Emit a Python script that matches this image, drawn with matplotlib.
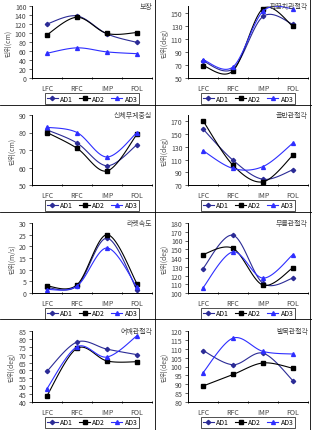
import numpy as np
import matplotlib
matplotlib.use("Agg")
import matplotlib.pyplot as plt
from matplotlib.lines import Line2D

plt.rcParams['font.family'] = ['Noto Sans CJK KR', 'DejaVu Sans']
plt.rcParams['font.size'] = 5

phases = ['LFC', 'RFC', 'IMP', 'FOL']
series = ['AD1', 'AD2', 'AD3']

# values: rows are AD1, AD2, AD3
stride = [[120, 138, 98, 79], [96, 135, 99, 101], [55, 67, 58, 54]]
elbow = [[76, 64, 144, 132], [69, 61, 156, 129], [78, 67, 152, 156]]
cog = [[81.5, 74, 61, 73], [80, 71, 58, 79], [83, 80, 66, 80]]
pelvis = [[158, 109, 79, 94], [171, 101, 75, 117], [124, 96, 99, 136]]
racket = [[2.3, 3, 23.5, 1.2], [3, 3.5, 25, 4], [1.5, 3, 19.3, 2.5]]
knee = [[128, 166, 111, 117], [144, 151, 109, 129], [106, 147, 117, 144]]
shoulder = [[59.5, 78, 73.5, 70], [44, 74, 66, 65.5], [48.5, 75, 68.5, 82]]
ankle = [[109, 101, 107.5, 92], [89, 95.5, 102, 99], [96.5, 116, 108.5, 107]]

titles = ['보장', '팔꿈치관절각', '신체무게중심', '골반관절각',
          '라켓속도', '무릎관절각', '어깨관절각', '발목관절각']
ylabels = ['단위(cm)', '단위(deg)', '단위(cm)', '단위(deg)',
           '단위(m/s)', '단위(deg)', '단위(deg)', '단위(deg)']
panels = [stride, elbow, cog, pelvis, racket, knee, shoulder, ankle]
ylims = [(0, 160), (50, 160), (50, 90), (70, 180),
         (0, 30), (100, 180), (40, 85), (80, 120)]
ysteps = [20, 20, 10, 20, 5, 10, 5, 5]

colors = ['#2b2b96', 'black', '#2e2eff']
markers = ['D', 's', '^']
msizes = [2.2, 2.4, 2.8]

W, H = 312, 431
fig = plt.figure(figsize=(W / 100, H / 100), dpi=100)


def smooth(x, y, n=24):
    p = np.column_stack([x, y]).astype(float)
    p = np.vstack([p[0], p, p[-1]])
    out = []
    t = np.linspace(0, 1, n)[:, None]
    for i in range(1, len(p) - 2):
        p0, p1, p2, p3 = p[i - 1], p[i], p[i + 1], p[i + 2]
        c1 = p1 + (p2 - p0) / 6
        c2 = p2 - (p3 - p1) / 6
        seg = ((1 - t) ** 3) * p1 + 3 * ((1 - t) ** 2) * t * c1 + 3 * (1 - t) * t ** 2 * c2 + t ** 3 * p2
        out.append(seg if i == 1 else seg[1:])
    out = np.vstack(out)
    return out[:, 0], out[:, 1]


col_x = [(32, 152), (188, 308)]
row_y = [(7, 79), (116, 186), (224, 294), (332, 403)]
xs = np.arange(len(phases))

for k, data in enumerate(panels):
    r, c = divmod(k, 2)
    x0, x1 = col_x[c]
    yt, yb = row_y[r]
    ax = fig.add_axes([x0 / W, 1 - yb / H, (x1 - x0) / W, (yb - yt) / H])
    for s in range(3):
        sx, sy = smooth(xs, data[s])
        ax.plot(sx, sy, color=colors[s], lw=0.8)
        ax.plot(xs, data[s], ls='none', marker=markers[s], ms=msizes[s],
                color=colors[s], label=series[s])
    lo, hi = ylims[k]
    ax.set_ylim(lo, hi)
    ax.set_yticks(np.arange(lo, hi + 0.01 if hi % ysteps[k] == lo % ysteps[k] else hi, ysteps[k]))
    ax.set_xlim(-0.5, 3.5)
    ax.set_xticks(xs)
    ax.set_xticklabels(phases)
    ax.set_xticks(np.arange(-0.5, 4, 1), minor=True)
    ax.tick_params(axis='x', which='major', length=0, pad=4.5, colors='#444444')
    ax.tick_params(axis='x', which='minor', length=2, width=0.6, direction='inout')
    ax.tick_params(axis='y', length=2, width=0.6, pad=2, colors='#444444')
    for side in ['top', 'right']:
        ax.spines[side].set_visible(False)
    for side in ['left', 'bottom']:
        ax.spines[side].set_linewidth(0.7)
    ax.set_ylabel(ylabels[k], fontsize=5, color='#555555', labelpad=2)
    ax.text(1.0, 1.0, titles[k], transform=ax.transAxes, ha='right', va='center',
            fontsize=5, color='#444444')
    handles = [Line2D([], [], color=colors[s], lw=0.8, marker=markers[s],
                      ms=msizes[s]) for s in range(3)]
    leg = ax.legend(handles, series, loc='center', bbox_to_anchor=(0.5, -20.5 / (yb - yt)),
                    ncol=3, fontsize=5, frameon=True, fancybox=False, edgecolor='black',
                    handlelength=1.6, handletextpad=0.3, columnspacing=0.9,
                    borderpad=0.25, borderaxespad=0)
    leg.get_frame().set_linewidth(0.6)

# panel frames
for yy in [106, 213, 320]:
    fig.add_artist(Line2D([0, 1], [1 - yy / H] * 2, color='black', lw=0.6))
fig.add_artist(Line2D([154.5 / W] * 2, [0, 1], color='black', lw=0.6))
fig.add_artist(Line2D([309.5 / W] * 2, [0, 1], color='black', lw=0.6))

fig.savefig('out.png', dpi=100)
